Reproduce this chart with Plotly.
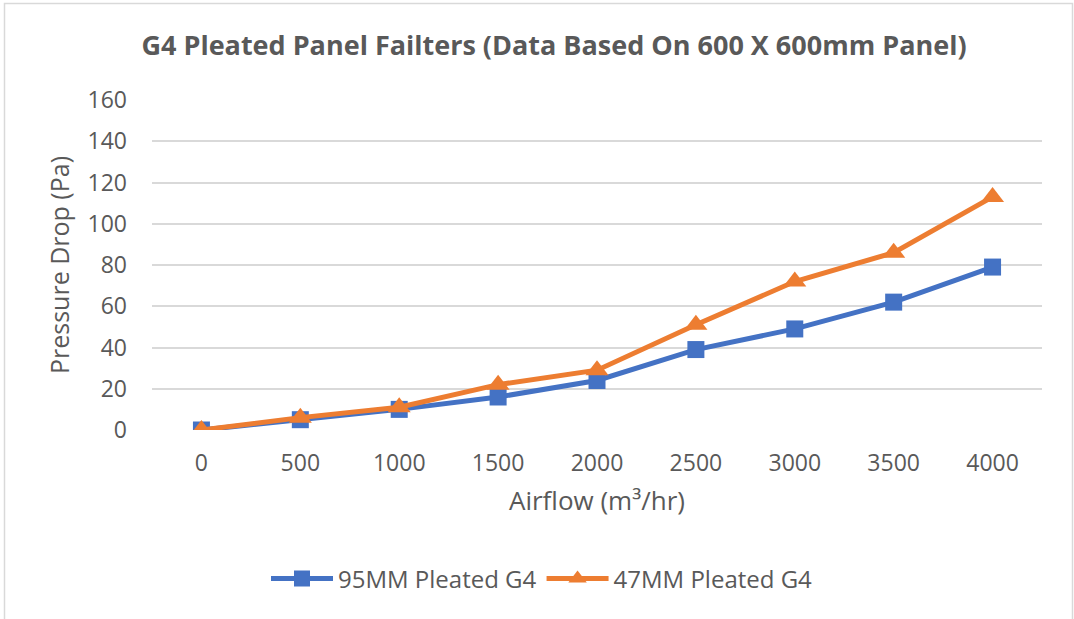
import plotly.graph_objects as go

airflow = ["0", "500", "1000", "1500", "2000", "2500", "3000", "3500", "4000"]
pleated_95mm = [0, 5, 10, 16, 24, 39, 49, 62, 79]
pleated_47mm = [0, 6, 11, 22, 29, 51, 72, 86, 113]
y_ticks = [0, 20, 40, 60, 80, 100, 120, 140, 160]

FONT = "'Open Sans', sans-serif"
GREY = "#595959"

fig = go.Figure()
fig.add_trace(go.Scatter(
    x=airflow, y=pleated_95mm, name="95MM Pleated G4", mode="lines+markers",
    line=dict(color="#4472C4", width=5),
    marker=dict(symbol="square", size=17, color="#4472C4"),
))
fig.add_trace(go.Scatter(
    x=airflow, y=pleated_47mm, name="47MM Pleated G4", mode="lines+markers",
    line=dict(color="#ED7D31", width=5),
    marker=dict(symbol="triangle-up", size=20, color="#ED7D31"),
))

fig.update_layout(
    width=1074, height=619,
    margin=dict(l=152, r=32, t=100, b=189),
    paper_bgcolor="white", plot_bgcolor="white",
    font=dict(family=FONT, color=GREY, size=20),
    title=dict(text="<b>G4 Pleated Panel Failters (Data Based On 600 X 600mm Panel)</b>",
               x=554 / 1074, xanchor="center", y=1 - 46 / 619, yanchor="middle",
               font=dict(family=FONT, size=27, color=GREY)),
    xaxis=dict(type="category", range=[-0.5, 8.5], showgrid=False, showline=False,
               zeroline=False, ticks="", tickfont=dict(size=23, color=GREY),
               ticklabelstandoff=17,
               title=dict(text="Airflow (m³/hr)", font=dict(size=26, color=GREY), standoff=14)),
    yaxis=dict(range=[0, 160], tickvals=y_ticks, showgrid=True, gridcolor="#d9d9d9",
               gridwidth=1.5, zeroline=False, showline=False, ticks="",
               tickfont=dict(size=23, color=GREY), ticklabelstandoff=24,
               title=dict(text="Pressure Drop (Pa)", font=dict(size=25, color=GREY), standoff=10)),
    legend=dict(orientation="h", x=(542 - 152) / 890, xanchor="center", y=(430 - 579) / 330,
                yanchor="middle", font=dict(size=24, color=GREY), itemwidth=62),
    showlegend=True,
)

fig.add_shape(type="rect", xref="paper", yref="paper",
              x0=(4.5 - 152) / 890, x1=(1072.5 - 152) / 890,
              y0=(430 - 640) / 330, y1=(430 - 3.5) / 330,
              line=dict(color="#d9d9d9", width=1.5), layer="below")

fig.write_html("out.html", config={"displayModeBar": False},
               post_script="document.body.style.margin='0';")
